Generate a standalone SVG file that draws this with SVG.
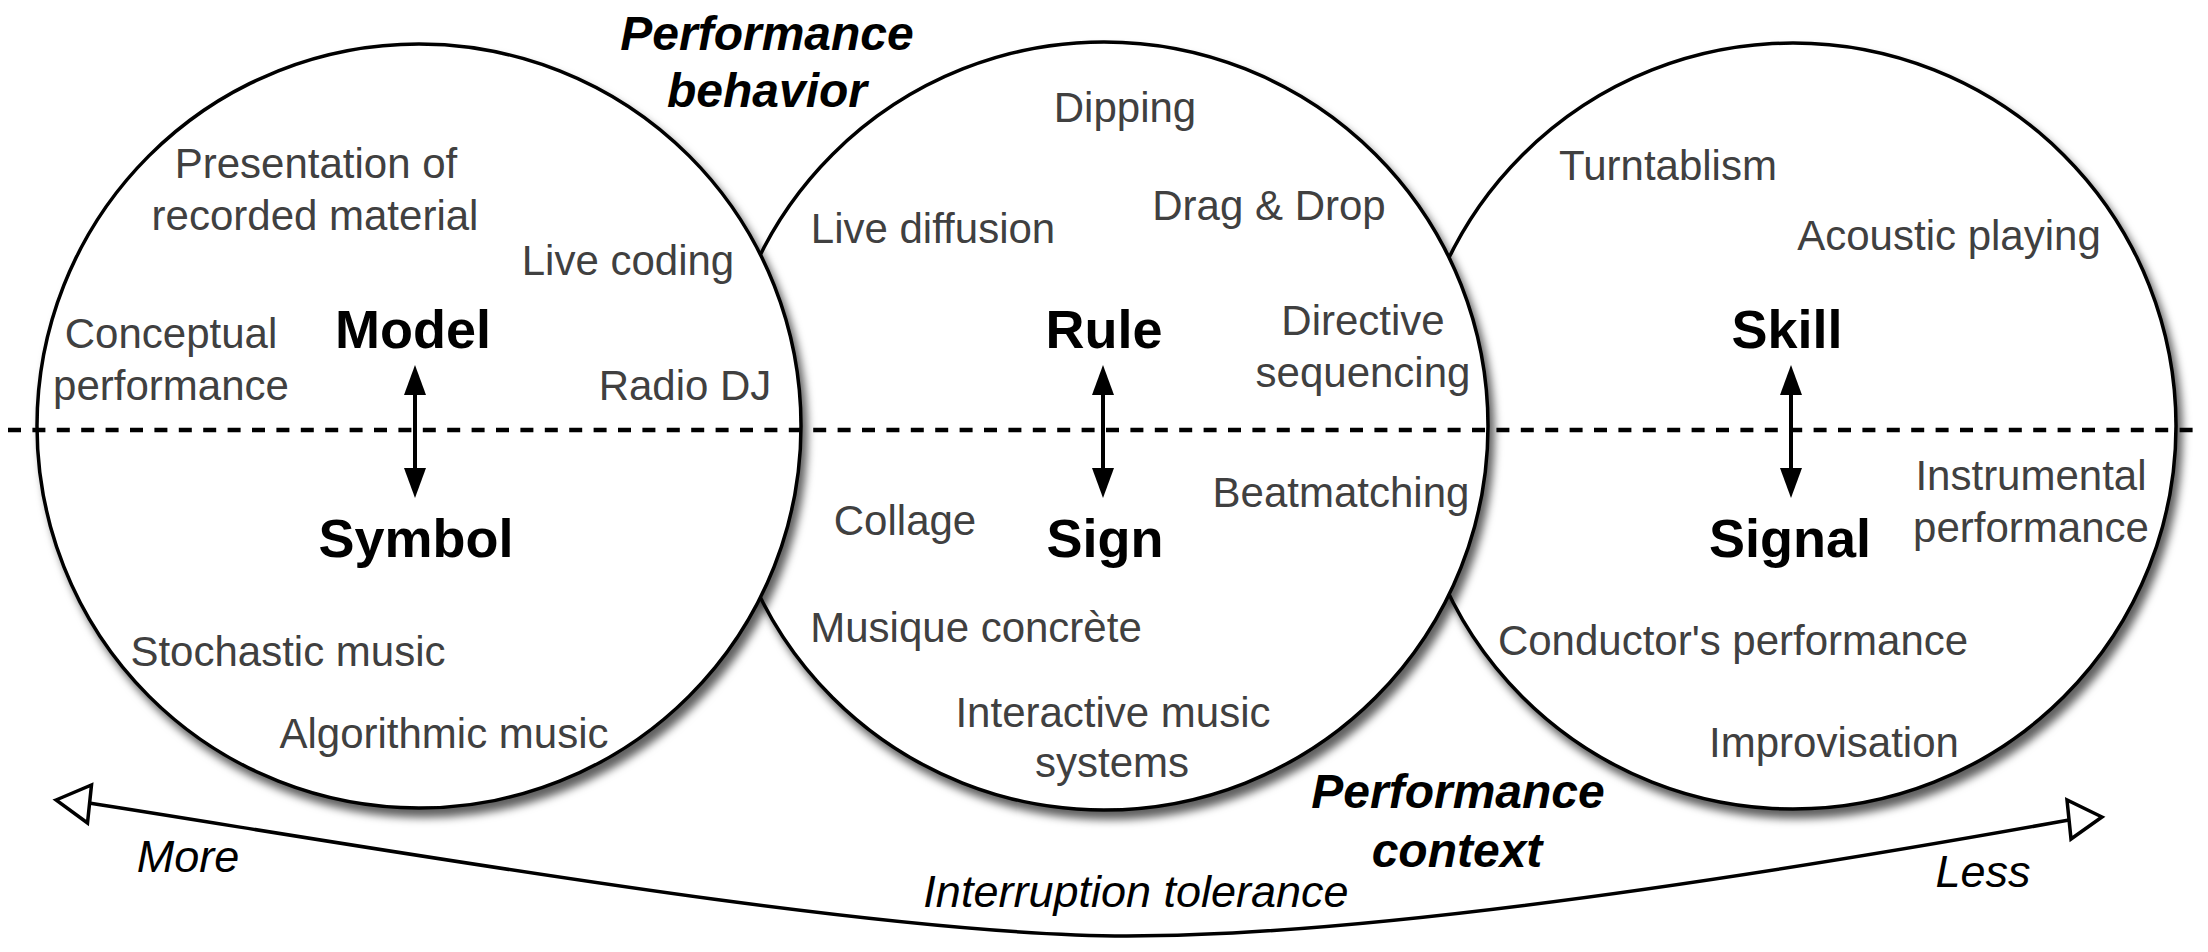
<svg xmlns="http://www.w3.org/2000/svg" width="2208" height="952" viewBox="0 0 2208 952">
<style>
  text { font-family: "Liberation Sans", Arial, Helvetica, sans-serif; }
  .item { font-size: 42px; fill: #404040; text-anchor: middle; }
  .key { font-size: 54px; font-weight: bold; fill: #000; text-anchor: middle; }
  .title { font-size: 48px; font-weight: bold; font-style: italic; fill: #000; text-anchor: middle; }
  .axis { font-size: 45px; font-style: italic; fill: #000; text-anchor: middle; }
  .circle { fill: #fff; stroke: #000; stroke-width: 3.5; filter: url(#shadow); }
  .dash { stroke: #000; stroke-width: 4.5; stroke-dasharray: 13 11.4; fill: none; }
  .vline { stroke: #000; stroke-width: 4; fill: none; marker-start: url(#tri); marker-end: url(#tri); }
  .curve { stroke: #000; stroke-width: 3.5; fill: none; }
  .openhead { fill: #fff; stroke: #000; stroke-width: 3.5; stroke-linejoin: miter; }
</style>
<defs>
  <filter id="shadow" x="-10%" y="-10%" width="125%" height="125%">
    <feDropShadow dx="5" dy="8" stdDeviation="4.5" flood-color="#000" flood-opacity="0.62"/>
  </filter>
  <marker id="tri" viewBox="0 0 30 22" markerUnits="userSpaceOnUse" markerWidth="30" markerHeight="22" refX="15" refY="11" orient="auto-start-reverse">
    <path d="M0,0 L30,11 L0,22 z" fill="#000"/>
  </marker>
</defs>

<rect width="2208" height="952" fill="#fff"/>

<g id="circle-skill">
  <circle class="circle" cx="1793" cy="426" r="383"/>
</g>
<g id="circle-rule">
  <circle class="circle" cx="1104" cy="426" r="384"/>
</g>
<g id="circle-model">
  <circle class="circle" cx="419" cy="426" r="382"/>
</g>

<g id="connectors">
  <line class="dash" x1="8" y1="430" x2="2198" y2="430"/>
  <line class="vline" x1="415" y1="380" x2="415" y2="483"/>
  <line class="vline" x1="1103" y1="380" x2="1103" y2="483"/>
  <line class="vline" x1="1791" y1="380" x2="1791" y2="483"/>
  <path class="curve" d="M89,803 C389,850 877,936 1127,936 C1377,936 1769,874 2069,820"/>
  <polygon class="openhead" points="56,800 91.5,785 87.5,823"/>
  <polygon class="openhead" points="2102,817 2067,800 2071,839"/>
</g>

<g id="node-model">
  <text class="key" x="413" y="348">Model</text>
  <text class="key" x="416" y="557">Symbol</text>
  <text class="item" x="316" y="178">Presentation of</text>
  <text class="item" x="315" y="230">recorded material</text>
  <text class="item" x="628" y="275">Live coding</text>
  <text class="item" x="171" y="348">Conceptual</text>
  <text class="item" x="171" y="400">performance</text>
  <text class="item" x="685" y="400">Radio DJ</text>
  <text class="item" x="288" y="666">Stochastic music</text>
  <text class="item" x="444" y="748">Algorithmic music</text>
</g>

<g id="node-rule">
  <text class="key" x="1104" y="348">Rule</text>
  <text class="key" x="1105" y="557">Sign</text>
  <text class="item" x="1125" y="122">Dipping</text>
  <text class="item" x="1269" y="220">Drag &amp; Drop</text>
  <text class="item" x="933" y="243">Live diffusion</text>
  <text class="item" x="1363" y="335">Directive</text>
  <text class="item" x="1363" y="387">sequencing</text>
  <text class="item" x="1341" y="507">Beatmatching</text>
  <text class="item" x="905" y="535">Collage</text>
  <text class="item" x="976" y="642">Musique concrète</text>
  <text class="item" x="1113" y="727">Interactive music</text>
  <text class="item" x="1112" y="777">systems</text>
</g>

<g id="node-skill">
  <text class="key" x="1787" y="348">Skill</text>
  <text class="key" x="1790" y="557">Signal</text>
  <text class="item" x="1668" y="180">Turntablism</text>
  <text class="item" x="1949" y="250">Acoustic playing</text>
  <text class="item" x="2031" y="490">Instrumental</text>
  <text class="item" x="2031" y="542">performance</text>
  <text class="item" x="1733" y="655">Conductor's performance</text>
  <text class="item" x="1834" y="757">Improvisation</text>
</g>

<g id="label-behavior">
  <text class="title" x="767" y="50">Performance</text>
  <text class="title" x="767" y="107">behavior</text>
</g>
<g id="label-context">
  <text class="title" x="1458" y="808">Performance</text>
  <text class="title" x="1457" y="867">context</text>
</g>
<g id="label-axis">
  <text class="axis" x="188" y="872">More</text>
  <text class="axis" x="1983" y="887">Less</text>
  <text class="axis" x="1136" y="907">Interruption tolerance</text>
</g>
</svg>
